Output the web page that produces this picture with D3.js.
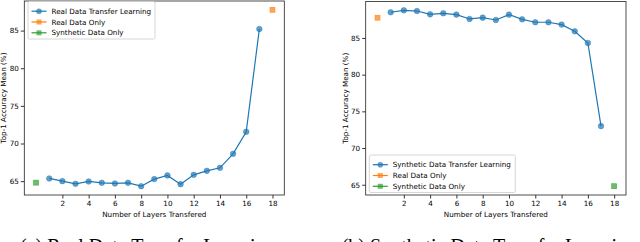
<!DOCTYPE html>
<html><head><meta charset="utf-8">
<script src="https://cdn.jsdelivr.net/npm/d3@7"></script>
<style>html,body{margin:0;padding:0;background:#fff;overflow:hidden}</style>
</head><body>
<svg id="c" width="640" height="242"></svg>
<script>
const layers = [1,2,3,4,5,6,7,8,9,10,11,12,13,14,15,16,17];
const realTL = [65.36,65.0,64.64,64.96,64.78,64.69,64.78,64.33,65.27,65.76,64.6,65.84,66.37,66.77,68.63,71.56,85.21];
const synthTL = [88.5,88.77,88.67,88.22,88.36,88.18,87.59,87.77,87.45,88.18,87.54,87.14,87.14,86.82,85.91,84.32,72.99];
const realOnly = 87.76;
const synthOnly = 64.8;
const xTicks = [2,4,6,8,10,12,14,16,18];
const yTicks = [65,70,75,80,85];
const xLabel = "Number of Layers Transfered";
const yLabel = "Top-1 Accuracy Mean (%)";
const captions = ["(a) Real Data Transfer Learning","(b) Synthetic Data Transfer Learning"];

const BLUE="#1f77b4", ORANGE="#ff7f0e", GREEN="#2ca02c";
const svg = d3.select("#c");
const FONT = "DejaVu Sans, sans-serif";

function panel(o){
  const g = svg.append("g");
  const x = d3.scaleLinear().domain([-0.9,18.9]).range([o.x0,o.x1]);
  const allY = o.tl.concat([realOnly,synthOnly]);
  const mn = d3.min(allY), mx = d3.max(allY), m = (mx-mn)*0.05;
  const y = d3.scaleLinear().domain([mn-m,mx+m]).range([o.y1,o.y0]);

  const xa = g.append("g").attr("transform",`translate(0,${o.y1})`)
    .call(d3.axisBottom(x).tickValues(xTicks).tickSize(3.5).tickPadding(2));
  const ya = g.append("g").attr("transform",`translate(${o.x0},0)`)
    .call(d3.axisLeft(y).tickValues(yTicks).tickSize(3.5).tickPadding(2));
  [xa,ya].forEach(a=>{
    a.select(".domain").remove();
    a.selectAll("text").attr("font-family",FONT).attr("font-size",7.2).attr("fill","#000");
    a.selectAll("line").attr("stroke","#000").attr("stroke-width",0.8);
  });
  g.append("rect").attr("x",o.x0).attr("y",o.y0).attr("width",o.x1-o.x0).attr("height",o.y1-o.y0)
    .attr("fill","none").attr("stroke","#222").attr("stroke-width",0.8);

  g.append("text").attr("x",(o.x0+o.x1)/2).attr("y",o.y1+21.5).attr("text-anchor","middle")
    .attr("font-family",FONT).attr("font-size",7.2).text(xLabel);
  g.append("text").attr("transform",`translate(${o.ylx},${(o.y0+o.y1)/2}) rotate(-90)`)
    .attr("text-anchor","middle").attr("dominant-baseline","central")
    .attr("font-family",FONT).attr("font-size",7.2).text(yLabel);

  const line = d3.line().x((d,i)=>x(layers[i])).y(d=>y(d));
  g.append("path").datum(o.tl).attr("d",line).attr("fill","none").attr("stroke",BLUE).attr("stroke-width",1.2);
  g.selectAll(".pt").data(o.tl).enter().append("circle")
    .attr("cx",(d,i)=>x(layers[i])).attr("cy",d=>y(d)).attr("r",2.8)
    .attr("fill",BLUE).attr("fill-opacity",0.7).attr("stroke",BLUE).attr("stroke-opacity",0.7).attr("stroke-width",0.6);

  const sq = (cx,cy,c)=>g.append("rect").attr("x",cx-2.5).attr("y",cy-2.5).attr("width",5).attr("height",5)
    .attr("fill",c).attr("fill-opacity",0.7).attr("stroke",c).attr("stroke-opacity",0.8).attr("stroke-width",0.6);
  sq(x(o.realX),y(realOnly),ORANGE);
  sq(x(o.synthX),y(synthOnly),GREEN);

  // legend
  const L = o.leg;
  g.append("rect").attr("x",L.x).attr("y",L.y).attr("width",L.w).attr("height",L.h).attr("rx",1.5)
    .attr("fill","#fff").attr("fill-opacity",0.8).attr("stroke","#ccc").attr("stroke-width",0.8);
  const items = [[o.name,BLUE,"c"],["Real Data Only",ORANGE,"s"],["Synthetic Data Only",GREEN,"s"]];
  items.forEach((it,i)=>{
    const yy = L.y + 9.7 + i*10.8;
    g.append("line").attr("x1",L.x+3.5).attr("x2",L.x+18.5).attr("y1",yy).attr("y2",yy)
      .attr("stroke",it[1]).attr("stroke-width",1.2);
    if(it[2]==="c") g.append("circle").attr("cx",L.x+11).attr("cy",yy).attr("r",2.8)
      .attr("fill",it[1]).attr("fill-opacity",0.7);
    else g.append("rect").attr("x",L.x+8.5).attr("y",yy-2.5).attr("width",5).attr("height",5)
      .attr("fill",it[1]).attr("fill-opacity",0.7);
    g.append("text").attr("x",L.x+23.5).attr("y",yy).attr("dominant-baseline","central")
      .attr("font-family",FONT).attr("font-size",7.2).text(it[0]);
  });

  svg.append("text").attr("x",o.capX).attr("y",253).attr("font-family","Liberation Serif, Times New Roman, serif")
    .attr("font-size",20).text(o.cap);
}

panel({x0:24.3,x1:284.3,y0:1,y1:195,tl:realTL,realX:18,synthX:0,ylx:3,
  name:"Real Data Transfer Learning",leg:{x:28,y:1.5,w:127,h:37.5},cap:captions[0],capX:20});
panel({x0:365.7,x1:626,y0:1.5,y1:195,tl:synthTL,realX:0,synthX:18,ylx:345,
  name:"Synthetic Data Transfer Learning",leg:{x:369.3,y:155,w:146,h:37.5},cap:captions[1],capX:341.7});
</script>
</body></html>
